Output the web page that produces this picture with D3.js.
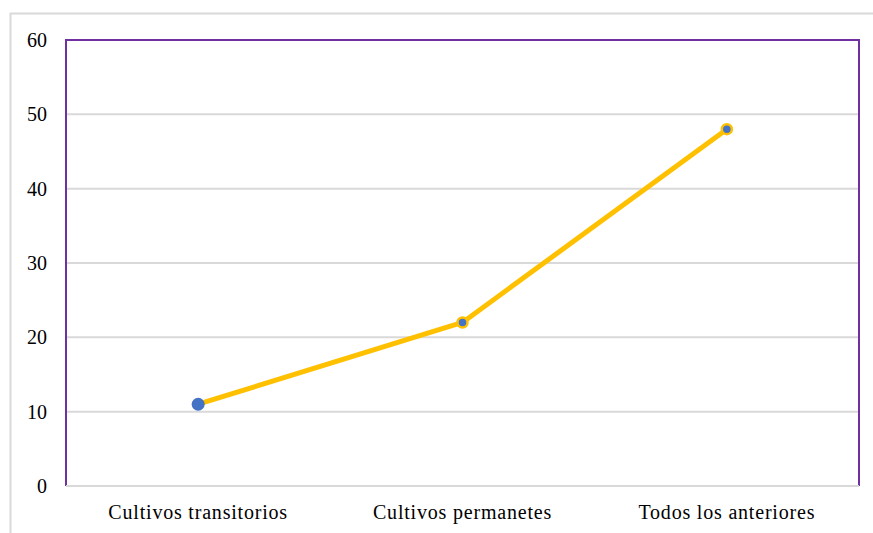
<!DOCTYPE html>
<html>
<head>
<meta charset="utf-8">
<script src="https://cdn.jsdelivr.net/npm/d3@7"></script>
<style>
  html, body { margin: 0; padding: 0; background: #fff; }
  svg { display: block; }
  text { font-family: "Liberation Serif", "Times New Roman", serif; fill: #000; }
</style>
</head>
<body>
<svg id="chart" width="873" height="533"></svg>
<script>
const categories = ["Cultivos transitorios", "Cultivos permanetes", "Todos los anteriores"];
const values = [11, 22, 48];
const yTicks = [0, 10, 20, 30, 40, 50, 60];

const W = 873, H = 533;
const margin = { left: 66, right: 14, top: 40, bottom: 47 };
const svg = d3.select("#chart");

// outer frame
svg.append("rect")
  .attr("x", 10.5).attr("y", 13.5)
  .attr("width", W + 10).attr("height", H + 10)
  .attr("fill", "none").attr("stroke", "#d9d9d9").attr("stroke-width", 2);

const x = d3.scaleBand().domain(categories)
  .range([margin.left, W - margin.right]).padding(0);
const y = d3.scaleLinear().domain([0, 60])
  .range([H - margin.bottom, margin.top]);

// gridlines
svg.append("g").selectAll("line").data(yTicks.filter(d => d > 0 && d < 60))
  .join("line")
  .attr("x1", margin.left).attr("x2", W - margin.right)
  .attr("y1", d => y(d)).attr("y2", d => y(d))
  .attr("stroke", "#d9d9d9").attr("stroke-width", 2);

// purple frame (top, left, right)
const x0 = margin.left, x1 = W - margin.right, yT = y(60), yB = y(0);
svg.append("path")
  .attr("d", `M${x0},${yB} L${x0},${yT} L${x1},${yT} L${x1},${yB}`)
  .attr("fill", "none").attr("stroke", "#7030A0").attr("stroke-width", 2);

// bottom axis line
svg.append("line")
  .attr("x1", x0).attr("x2", x1).attr("y1", yB).attr("y2", yB)
  .attr("stroke", "#d9d9d9").attr("stroke-width", 2);

// y labels
const yAxis = d3.axisLeft(y).tickValues(yTicks).tickSize(0).tickPadding(0);
const gy = svg.append("g").attr("transform", `translate(47,0)`).call(yAxis);
gy.select(".domain").remove();
gy.selectAll("text").attr("font-size", 20).attr("font-family", "Liberation Serif, serif").attr("fill", "#000");

// x labels
const xAxis = d3.axisBottom(x).tickSize(0).tickPadding(0);
const gx = svg.append("g").attr("transform", `translate(0,0)`).call(xAxis);
gx.select(".domain").remove();
gx.selectAll("text")
  .attr("y", 519).attr("dy", 0)
  .attr("font-size", 20).attr("letter-spacing", 0.8)
  .attr("font-family", "Liberation Serif, serif").attr("fill", "#000");

// line
const pts = categories.map((c, i) => [x(c) + x.bandwidth() / 2, y(values[i])]);
svg.append("path")
  .attr("d", d3.line()(pts))
  .attr("fill", "none").attr("stroke", "#FFC000").attr("stroke-width", 5)
  .attr("stroke-linejoin", "round");

// markers
svg.append("g").selectAll("circle").data(pts)
  .join("circle")
  .attr("cx", d => d[0]).attr("cy", d => d[1])
  .attr("r", (d, i) => i === 0 ? 6.5 : 5)
  .attr("fill", "#4472C4")
  .attr("stroke", (d, i) => i === 0 ? "none" : "#FFC000")
  .attr("stroke-width", 2.5);
</script>
</body>
</html>
